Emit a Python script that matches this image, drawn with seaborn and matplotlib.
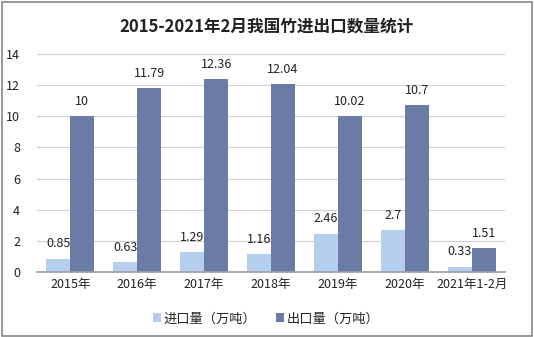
import matplotlib
matplotlib.use("Agg")
import matplotlib.pyplot as plt
import seaborn as sns
import pandas as pd
import numpy as np
from matplotlib.patches import Rectangle

categories = ["2015年", "2016年", "2017年", "2018年", "2019年", "2020年", "2021年1-2月"]
imports = [0.85, 0.63, 1.29, 1.16, 2.46, 2.7, 0.33]
exports = [10, 11.79, 12.36, 12.04, 10.02, 10.7, 1.51]
series_names = ["进口量（万吨）", "出口量（万吨）"]
yticks = [0, 2, 4, 6, 8, 10, 12, 14]

sns.set_theme(style="white")
plt.rcParams['font.family'] = ['Noto Sans CJK SC', 'DejaVu Sans']

df = pd.DataFrame({
    "cat": categories * 2,
    "val": imports + exports,
    "series": [series_names[0]] * len(categories) + [series_names[1]] * len(categories),
})

fig = plt.figure(figsize=(5.34, 3.37), dpi=100)
ax = fig.add_axes([0.069, 0.193, 0.877, 0.647])
palette = ["#B5CEEE", "#6A7BA6"]
sns.barplot(data=df, x="cat", y="val", hue="series", palette=palette, ax=ax,
            width=0.72, saturation=1, legend=True, linewidth=0, edgecolor="none", gap=0)

for cont in ax.containers:
    ax.bar_label(cont, fmt="%g", padding=6, fontsize=9, color="#222222")

ax.set_ylim(0, 14)
ax.set_yticks(yticks)
ax.set_xlim(-0.5, len(categories) - 0.5)
ax.set_xlabel("")
ax.set_ylabel("")
ax.yaxis.grid(True, color="#D0D0D0", linewidth=0.8)
ax.set_axisbelow(True)
for s in ["left", "right", "top"]:
    ax.spines[s].set_visible(False)
ax.spines["bottom"].set_color("#A0A0A0")
ax.tick_params(axis="y", length=0, labelsize=9, colors="#222222", pad=12)
ax.tick_params(axis="x", which="major", length=0, labelsize=9, colors="#222222", pad=4)
ax.set_xticks(np.arange(-0.5, len(categories), 1.0), minor=True)
ax.tick_params(axis="x", which="minor", length=4, color="#A0A0A0", width=0.8)

handles, labels = ax.get_legend_handles_labels()
ax.legend(handles, labels, loc="center", bbox_to_anchor=(0.49, -0.215), ncol=2,
          frameon=False, fontsize=9.5, handlelength=0.6, handleheight=0.6,
          handletextpad=0.2, columnspacing=1.5)

fig.text(0.5, 0.92, "2015-2021年2月我国竹进出口数量统计", ha="center", va="center",
         fontsize=12, fontweight="bold", color="#222222")

fig.patches.append(Rectangle((0.004, 0.004), 0.992, 0.99, transform=fig.transFigure,
                             fill=False, edgecolor="#888888", linewidth=1.2))

fig.savefig("out.png", dpi=100)
